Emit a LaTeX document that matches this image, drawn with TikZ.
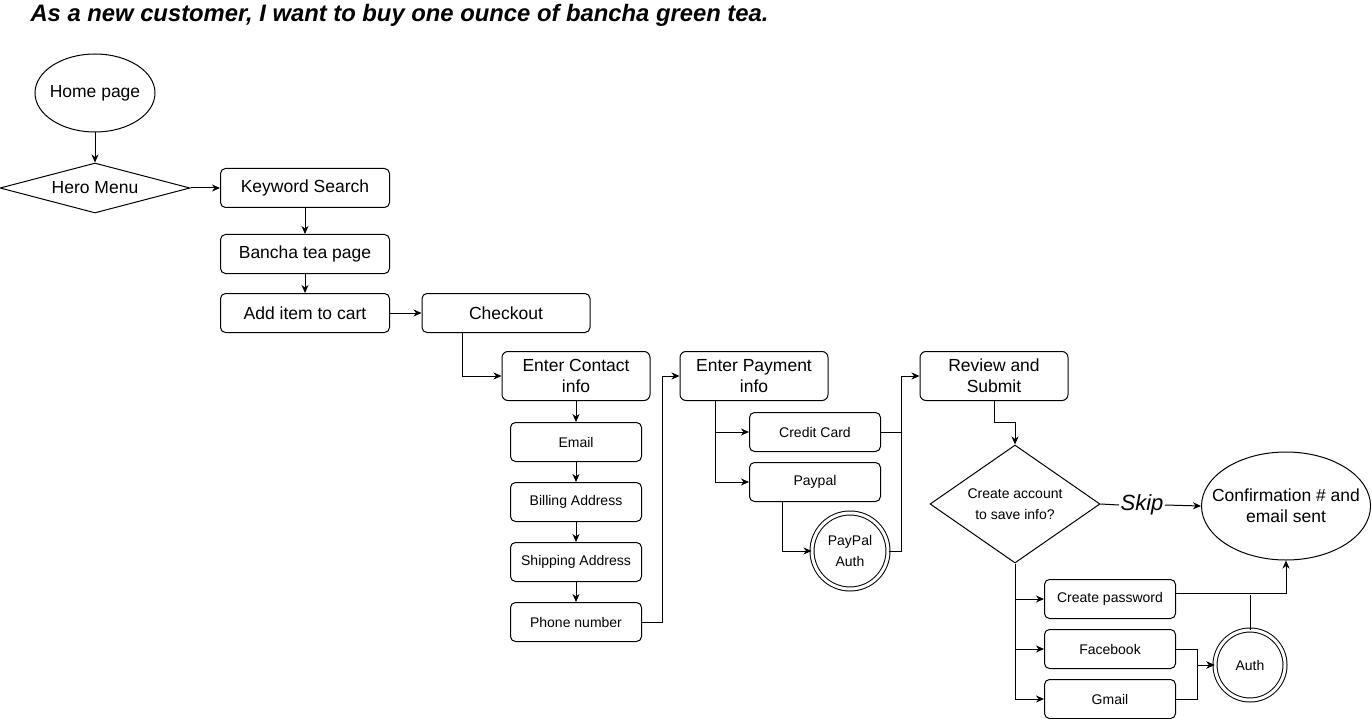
\documentclass[tikz,border=0pt]{standalone}
\usepackage{fontspec}
\setmainfont{Liberation Sans}
\usetikzlibrary{shapes.geometric, arrows.meta, calc}
\tikzset{pgbox/.style={draw, rounded corners=5pt, minimum width=169pt, minimum height=39pt, inner sep=2pt, font=\fontsize{17.5}{21}\selectfont}}
\tikzset{stepbox/.style={draw, rounded corners=6pt, minimum width=148pt, minimum height=49pt, inner sep=2pt, align=center, font=\fontsize{17.5}{21}\selectfont}}
\tikzset{subbox/.style={draw, rounded corners=5pt, minimum width=131pt, minimum height=39pt, inner sep=2pt, font=\fontsize{14}{17}\selectfont}}
\tikzset{authc/.style={draw, circle, double, double distance=3pt, inner sep=0pt, align=center, font=\fontsize{14}{21}\selectfont}}
\tikzset{arr/.style={-{Stealth[length=8pt, width=7pt, inset=2.5pt]}}}

\begin{document}
\begin{tikzpicture}[x=1pt, y=-1pt, line width=1pt]
    \useasboundingbox (0,0) rectangle (1372,719);
    \node[anchor=base west, inner sep=0pt, font=\fontsize{23.8}{28}\selectfont\bfseries\itshape] (title) at (30,22) {As a new customer, I want to buy one ounce of bancha green tea.};

    \node[draw, ellipse, minimum width=120pt, minimum height=78pt, inner xsep=-6pt, inner ysep=0pt, font=\fontsize{17.5}{21}\selectfont] (home) at (95,93) {Home page};
    \node[draw, diamond, aspect=3.8, minimum width=190pt, minimum height=50pt, inner sep=0pt, font=\fontsize{17.5}{21}\selectfont] (hero) at (95,188) {Hero Menu};
    \node[pgbox] (kws) at (305,188) {Keyword Search};
    \node[pgbox] (bancha) at (305,254) {Bancha tea page};
    \node[pgbox] (add) at (305,313) {Add item to cart};
    \node[pgbox, minimum width=168pt] (checkout) at (506,313) {Checkout};

    \node[stepbox] (contact) at (576,376) {Enter Contact\\info};
    \node[subbox] (email) at (576,442) {Email};
    \node[subbox] (billing) at (576,502) {Billing Address};
    \node[subbox] (shipping) at (576,562) {Shipping Address};
    \node[subbox] (phone) at (576,622) {Phone number};

    \node[stepbox] (payment) at (754,376) {Enter Payment\\info};
    \node[subbox] (credit) at (815,432) {Credit Card};
    \node[subbox] (paypal) at (815,482) {Paypal};
    \node[authc, minimum size=76pt] (ppauth) at (850,551) {PayPal\\Auth};

    \node[stepbox] (review) at (994,376) {Review and\\Submit};
    \node[draw, diamond, aspect=1.44, minimum width=170pt, minimum height=118pt, inner sep=0pt, align=center, font=\fontsize{14}{21}\selectfont] (acct) at (1015,504) {Create account\\to save info?};
    \node[font=\fontsize{22}{26}\selectfont\itshape, inner sep=1pt] (skip) at (1142,505) {Skip};
    \node[draw, ellipse, minimum width=169pt, minimum height=108pt, inner xsep=-18pt, inner ysep=0pt, align=center, font=\fontsize{17.5}{21}\selectfont] (confirm) at (1286,506) {Confirmation \# and\\email sent};

    \node[subbox] (cpw) at (1110,599) {Create password};
    \node[subbox] (fb) at (1110,649) {Facebook};
    \node[subbox] (gm) at (1110,699) {Gmail};
    \node[authc, minimum size=70pt] (auth) at (1250,665) {Auth};
    \coordinate (rj) at (901,432);

    \draw[arr] (home) -- (hero);
    \draw[arr] (hero) -- (kws);
    \draw[arr] (kws) -- (bancha);
    \draw[arr] (bancha) -- (add);
    \draw[arr] (add) -- (checkout);
    \draw[arr] ($(checkout.south west)+(41,0)$) |- (contact.west);
    \draw[arr] (contact) -- (email);
    \draw[arr] (email) -- (billing);
    \draw[arr] (billing) -- (shipping);
    \draw[arr] (shipping) -- (phone);
    \draw[arr] (phone.east) -- ++(20,0) |- (payment.west);
    \draw[arr] ($(payment.south west)+(36,0)$) |- (credit.west);
    \draw[arr] ($(payment.south west)+(36,0)$) |- (paypal.west);
    \draw[arr] ($(paypal.south west)+(33,0)$) |- (ppauth.west);
    \draw (credit.east) -- (rj);
    \draw[arr] (ppauth.east) -| (rj) |- (review.west);
    \draw[arr] (review.south) -- ++(0,21) -| (acct.north);
    \draw (acct.east) -- (skip.west);
    \draw[arr] (skip.east) -- (confirm.west);
    \draw[arr] (acct.south) |- (cpw.west);
    \draw[arr] (acct.south) |- (fb.west);
    \draw[arr] (acct.south) |- (gm.west);
    \draw[arr] ([yshift=6pt]cpw.east) -| (confirm.south);
    \draw (auth.north) -- ++(0,-35);
    \draw[arr] (fb.east) -- ++(21,0) |- (auth.west);
    \draw[arr] (gm.east) -- ++(21,0) |- (auth.west);
\end{tikzpicture}
\end{document}
